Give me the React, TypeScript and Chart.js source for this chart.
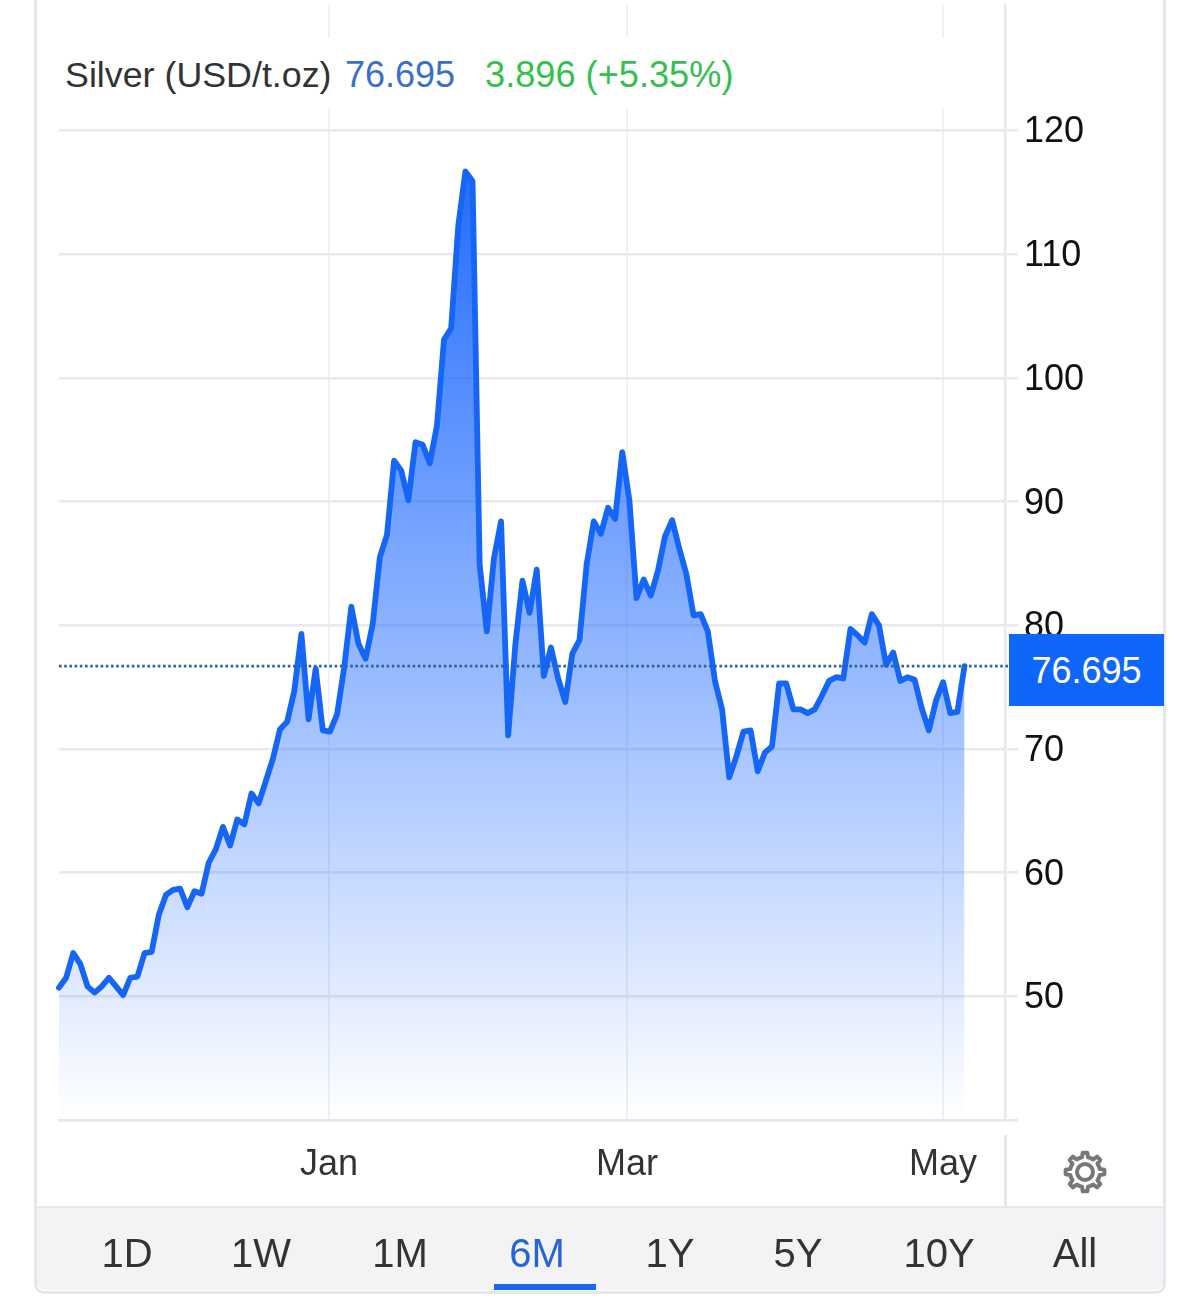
import React, { useEffect, useRef } from "react";
import { Chart, registerables } from "chart.js";

Chart.register(...registerables);

const prices = [
  50.7, 51.5, 53.5, 52.6, 50.8, 50.3, 50.8, 51.5, 50.8, 50.1,
  51.5, 51.6, 53.5, 53.6, 56.6, 58.2, 58.6, 58.7, 57.2, 58.5,
  58.3, 60.8, 61.9, 63.7, 62.2, 64.3, 63.9, 66.4, 65.6, 67.4,
  69.2, 71.6, 72.2, 74.7, 79.3, 72.4, 76.5, 71.5, 71.4, 72.8,
  76.6, 81.5, 78.5, 77.3, 80.1, 85.5, 87.3, 93.3, 92.5, 90.1,
  94.8, 94.6, 93.1, 96.1, 103.1, 104, 112.3, 116.7, 115.9, 84.9,
  79.5, 85.4, 88.4, 71.1, 78.4, 83.6, 81, 84.5, 75.9, 78.2,
  75.7, 73.8, 77.7, 78.8, 84.9, 88.4, 87.4, 89.5, 88.6, 94,
  90.1, 82.2, 83.7, 82.4, 84.4, 87.2, 88.5, 86.2, 84.1, 80.8,
  80.9, 79.5, 75.5, 73.2, 67.7, 69.4, 71.4, 71.5, 68.2, 69.7,
  70.2, 75.3, 75.3, 73.2, 73.2, 72.9, 73.2, 74.3, 75.5, 75.8,
  75.7, 79.7, 79.2, 78.6, 80.9, 80, 76.8, 77.8, 75.5, 75.8,
  75.6, 73.3, 71.5, 73.9, 75.4, 72.9, 73, 76.695,
];
const lastPrice = 76.695;
const yTicks = [40, 50, 60, 70, 80, 90, 100, 110, 120];
const monthTicks = [37.87, 79.66, 123.98];
const monthLabels = ["Jan", "Mar", "May"];
const ranges = ["1D", "1W", "1M", "6M", "1Y", "5Y", "10Y", "All"];
const rangeCenters = [127, 261, 400, 537, 670, 798, 939, 1075];
const activeRange = "6M";

const FONT = '"Liberation Sans", Arial, sans-serif';
const X_MAX = 132.68;

function gearPath(cx: number, cy: number) {
  const teeth = 8;
  const pts: string[] = [];
  for (let i = 0; i < teeth; i++) {
    const a = (i / teeth) * Math.PI * 2;
    const s = (Math.PI * 2) / teeth;
    const pairs: [number, number][] = [
      [15, a - s * 0.5],
      [15, a - s * 0.26],
      [19.5, a - s * 0.15],
      [19.5, a + s * 0.15],
      [15, a + s * 0.26],
    ];
    for (const [r, t] of pairs) {
      pts.push(`${(cx + r * Math.cos(t)).toFixed(2)} ${(cy + r * Math.sin(t)).toFixed(2)}`);
    }
  }
  return "M" + pts.join("L") + "Z";
}

export default function App() {
  const ref = useRef<HTMLCanvasElement | null>(null);

  useEffect(() => {
    const canvas = ref.current!;
    const chart = new Chart(canvas, {
      type: "line",
      data: {
        datasets: [
          {
            data: prices.map((y, x) => ({ x, y })),
            borderColor: "#1666f6",
            borderWidth: 5.8,
            borderJoinStyle: "round",
            borderCapStyle: "round",
            pointRadius: 0,
            tension: 0,
            fill: "start",
            backgroundColor: (c: any) => {
              const { ctx } = c.chart;
              const g = ctx.createLinearGradient(0, 170, 0, 1120);
              g.addColorStop(0, "rgba(22,100,255,0.95)");
              g.addColorStop(1, "rgba(22,100,255,0)");
              return g;
            },
            clip: false,
            order: 2,
          },
          {
            data: [
              { x: 0, y: lastPrice },
              { x: X_MAX + 0.7, y: lastPrice },
            ],
            borderColor: "#2a659c",
            borderWidth: 2.6,
            borderDash: [2.6, 2.6],
            pointRadius: 0,
            fill: false,
            clip: false,
            order: 1,
          },
        ],
      },
      options: {
        responsive: false,
        animation: false,
        events: [],
        layout: { autoPadding: false, padding: { left: 59, top: 5, right: 0, bottom: 0 } },
        plugins: { legend: { display: false }, tooltip: { enabled: false } },
        scales: {
          x: {
            type: "linear",
            min: 0,
            max: X_MAX,
            afterBuildTicks: (s: any) => {
              s.ticks = monthTicks.map((value) => ({ value }));
            },
            afterFit: (s: any) => {
              s.height = 179;
            },
            grid: { color: "#eef1f6", lineWidth: 2, drawTicks: false },
            border: { color: "#e6e7eb", width: 2.5 },
            ticks: {
              autoSkip: false,
              maxRotation: 0,
              padding: 23,
              color: "#333333",
              font: { family: FONT, size: 36 },
              callback: (v: any) => monthLabels[monthTicks.indexOf(Number(v))] ?? "",
            },
          },
          y: {
            position: "right",
            min: 40,
            max: 130.15,
            afterBuildTicks: (s: any) => {
              s.ticks = yTicks.map((value) => ({ value }));
            },
            afterFit: (s: any) => {
              s.width = 195;
              s.paddingTop = 0;
              s.paddingBottom = 0;
            },
            grid: { color: "#e8e9ed", lineWidth: 2.5, tickLength: 13, tickColor: "#e8e9ed" },
            border: { color: "#e6e7eb", width: 2.5 },
            ticks: {
              padding: 6,
              labelOffset: 2,
              color: "#111111",
              font: { family: FONT, size: 36 },
              callback: (v: any) => (v === 40 ? "" : String(v)),
            },
          },
        },
      },
    } as any);
    return () => chart.destroy();
  }, []);

  const abs = (s: React.CSSProperties): React.CSSProperties => ({ position: "absolute", ...s });

  return (
    <div
      style={{
        position: "absolute",
        left: 0,
        top: 0,
        width: 1200,
        height: 1299,
        overflow: "hidden",
        background: "#fff",
        fontFamily: FONT,
      }}
    >
      <div
        style={abs({
          left: 34,
          top: -20,
          width: 1126,
          height: 1308,
          border: "3px solid #e6e7eb",
          borderRadius: 10,
          background: "#fff",
        })}
      />
      <div
        style={abs({
          left: 37,
          top: 1206,
          width: 1126,
          height: 84,
          background: "#f3f3f5",
          borderTop: "2.5px solid #e6e7eb",
          borderRadius: "0 0 8px 8px",
          boxSizing: "border-box",
        })}
      />
      <canvas ref={ref} width={1200} height={1299} style={abs({ left: 0, top: 0, display: "block" })} />
      <div style={abs({ left: 1004, top: 1135, width: 2.5, height: 71, background: "#e6e7eb" })} />
      <div style={abs({ left: 60, top: 38, width: 942, height: 70, background: "#fff" })} />
      <div
        style={abs({
          left: 65,
          top: 50,
          fontSize: 35.8,
          lineHeight: "50px",
          whiteSpace: "pre",
          color: "#333333",
        })}
      >
        Silver (USD/t.oz)
      </div>
      <div style={abs({ left: 345, top: 50, fontSize: 36, lineHeight: "50px", color: "#3b70c9" })}>76.695</div>
      <div style={abs({ left: 485, top: 50, fontSize: 36.2, lineHeight: "50px", color: "#35c04e" })}>
        3.896 (+5.35%)
      </div>
      <div
        style={abs({
          left: 1009,
          top: 634,
          width: 155,
          height: 72,
          background: "#0f66fb",
          color: "#fff",
          fontSize: 36,
          lineHeight: "74px",
          textAlign: "center",
        })}
      >
        {String(lastPrice)}
      </div>
      <svg width={60} height={60} style={abs({ left: 1055, top: 1142 })}>
        <path d={gearPath(30, 30)} fill="none" stroke="#777777" strokeWidth={4} strokeLinejoin="round" />
        <circle cx={30} cy={30} r={8} fill="none" stroke="#777777" strokeWidth={4} />
      </svg>
      {ranges.map((r, i) => (
        <div
          key={r}
          style={abs({
            left: rangeCenters[i] - 60,
            width: 120,
            top: 1228,
            textAlign: "center",
            fontSize: 40,
            lineHeight: "50px",
            color: r === activeRange ? "#2563dc" : "#333333",
          })}
        >
          {r}
        </div>
      ))}
      <div style={abs({ left: 494, top: 1284, width: 102, height: 6, background: "#1a66f0" })} />
    </div>
  );
}
